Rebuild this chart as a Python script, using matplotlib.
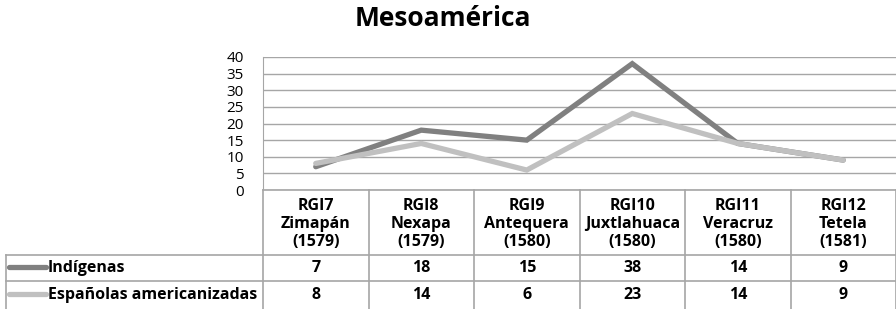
import matplotlib.pyplot as plt

plt.rcParams['font.family'] = ['Open Sans', 'DejaVu Sans']

# Data
categories = ['RGI7\nZimapán\n(1579)', 'RGI8\nNexapa\n(1579)', 'RGI9\nAntequera\n(1580)',
              'RGI10\nJuxtlahuaca\n(1580)', 'RGI11\nVeracruz\n(1580)', 'RGI12\nTetela\n(1581)']
indigenas = [7, 18, 15, 38, 14, 9]
espanolas = [8, 14, 6, 23, 14, 9]
series_names = ['Indígenas', 'Españolas americanizadas']
series_colors = ['#808080', '#c0c0c0']
yticks = [0, 5, 10, 15, 20, 25, 30, 35, 40]

W, H = 896, 309
grid_col = '#a6a6a6'
fig = plt.figure(figsize=(W / 100, H / 100), dpi=100)

# Main line chart area
ax = fig.add_axes([263 / W, (H - 190) / H, (W - 263) / W, 133 / H])
xs = list(range(len(categories)))
for vals, col in zip([indigenas, espanolas], series_colors):
    ax.plot(xs, vals, color=col, lw=3.8, solid_capstyle='round', solid_joinstyle='miter', zorder=3)
ax.set_xlim(-0.5, len(categories) - 0.5)
ax.set_ylim(0, 40)
ax.set_yticks(yticks)
ax.set_yticklabels([str(v) for v in yticks], fontsize=11)
ax.tick_params(axis='y', length=0, pad=14)
ax.set_xticks([])
ax.yaxis.grid(True, color=grid_col, lw=1)
ax.set_axisbelow(True)
for s in ['top', 'right', 'bottom']:
    ax.spines[s].set_visible(False)
ax.spines['left'].set_color(grid_col)

fig.text(443 / W, 1 - 19 / H, 'Mesoamérica', ha='center', va='center', fontsize=19, fontweight='bold')

# Data table below the chart
tab = fig.add_axes([6 / W, 0, 1 - 6 / W, (H - 190) / H])
unit = (W - 263) / len(categories)
x0 = -0.5 - 257 / unit
tab.set_xlim(x0, len(categories) - 0.5)
tab.set_ylim(119, 0)
tab.axis('off')

row_edges = [0, 65, 91, 119]
lc = dict(color=grid_col, lw=1.2, clip_on=False)
tab.plot([-0.5, len(categories) - 0.5], [0, 0], **lc)
for y in row_edges[1:3]:
    tab.plot([x0, len(categories) - 0.5], [y, y], **lc)
for i in range(len(categories) + 1):
    tab.plot([i - 0.5, i - 0.5], [0, 119], **lc)
tab.plot([x0, x0], [65, 119], **lc)

for i, lab in enumerate(categories):
    tab.text(i, 34, lab, ha='center', va='center', fontsize=11.5, fontweight='bold', linespacing=1.2)

for r, (name, col, vals) in enumerate(zip(series_names, series_colors, [indigenas, espanolas])):
    yc = (row_edges[r + 1] + row_edges[r + 2]) / 2
    tab.plot([x0 + 3 / unit, x0 + 40 / unit], [yc - 1, yc - 1], color=col, lw=3.8,
             solid_capstyle='round', clip_on=False)
    tab.text(x0 + 42 / unit, yc, name, ha='left', va='center', fontsize=11.5, fontweight='bold')
    for i, v in enumerate(vals):
        tab.text(i, yc, str(v), ha='center', va='center', fontsize=11.5, fontweight='bold')

fig.savefig('out.png', dpi=100)
